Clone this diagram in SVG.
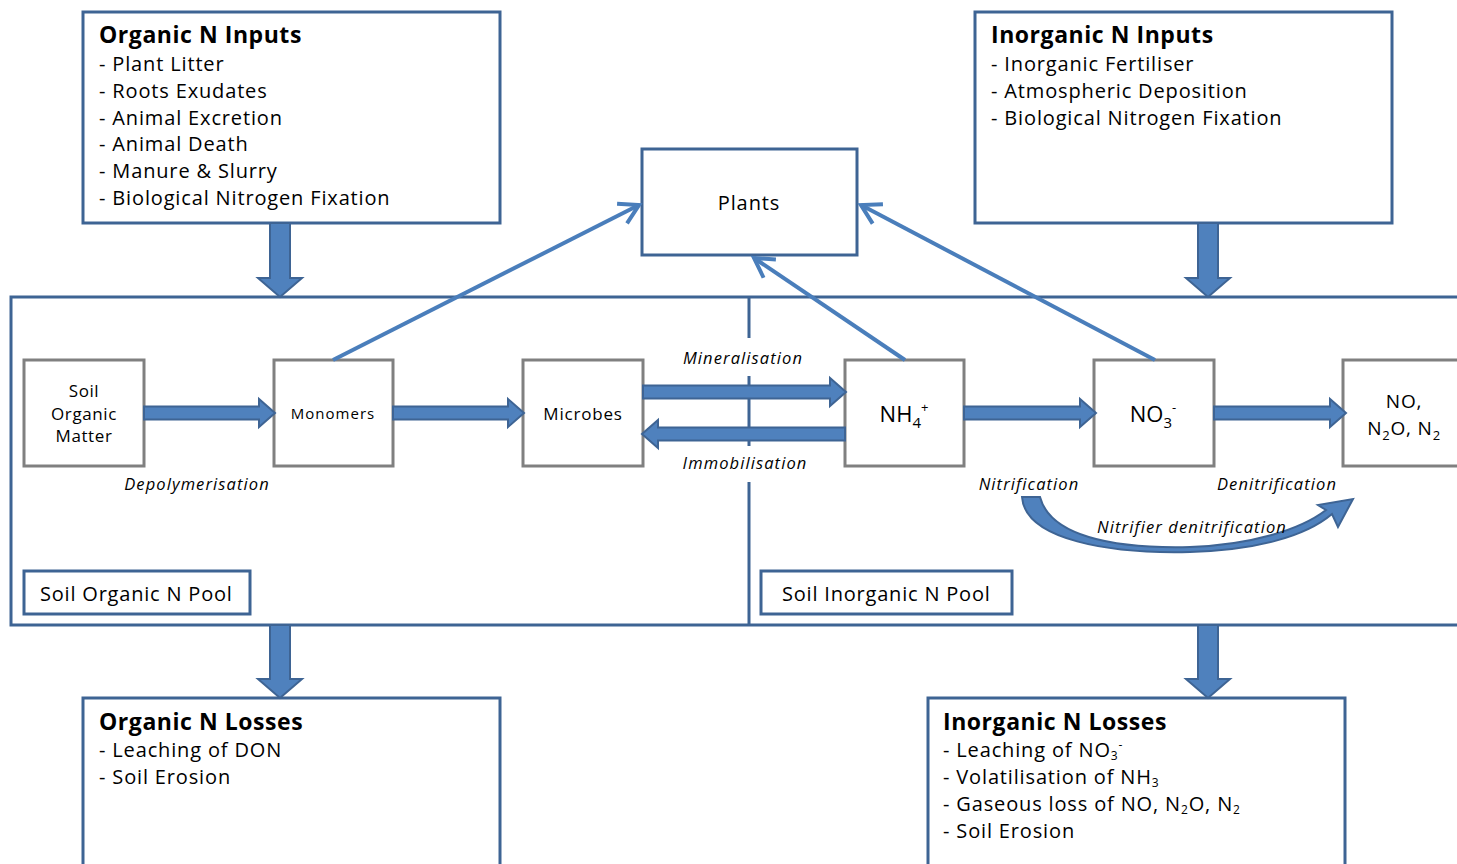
<svg xmlns="http://www.w3.org/2000/svg" width="1457" height="864" viewBox="0 0 1457 864">
<defs>
<style>
text{font-family:"Open Sans","DejaVu Sans",sans-serif;fill:#000}
.box{fill:#fff;stroke:#3E6494;stroke-width:3}
.gbox{fill:#fff;stroke:#808080;stroke-width:3}
.blk{fill:#4F81BD;stroke:#3E6494;stroke-width:2;stroke-linejoin:miter}
.thin{stroke:#4A7EBB;stroke-width:4;fill:none;marker-end:url(#ah)}
.t{font-size:23px;font-weight:bold;letter-spacing:0.55px}
.l{font-size:20px;letter-spacing:0.85px}
.it{font-size:16.5px;font-style:italic;letter-spacing:1.1px}
</style>
<marker id="ah" markerUnits="userSpaceOnUse" markerWidth="26" markerHeight="26" viewBox="0 0 26 26" refX="22" refY="13" orient="auto">
<path d="M3,2 L22,13 L3,24" fill="none" stroke="#4A7EBB" stroke-width="4"/>
</marker>
</defs>

<g id="soil-pool">
<path d="M1460,297 H11 V625 H1460" fill="#fff" stroke="#3E6494" stroke-width="3"/>
<line x1="749" y1="297" x2="749" y2="625" stroke="#3E6494" stroke-width="3"/>
<rect x="665" y="338" width="160" height="38" fill="#fff"/>
<rect x="665" y="446" width="160" height="36" fill="#fff"/>
</g>

<g id="organic-inputs">
<rect class="box" x="83" y="12" width="417" height="211"/>
<text class="t" x="99" y="43">Organic N Inputs</text>
<text class="l" x="99" y="71">- Plant Litter</text>
<text class="l" x="99" y="98">- Roots Exudates</text>
<text class="l" x="99" y="125">- Animal Excretion</text>
<text class="l" x="99" y="151">- Animal Death</text>
<text class="l" x="99" y="178">- Manure &amp; Slurry</text>
<text class="l" x="99" y="205">- Biological Nitrogen Fixation</text>
</g>

<g id="inorganic-inputs">
<rect class="box" x="975" y="12" width="417" height="211"/>
<text class="t" x="991" y="43">Inorganic N Inputs</text>
<text class="l" x="991" y="71">- Inorganic Fertiliser</text>
<text class="l" x="991" y="98">- Atmospheric Deposition</text>
<text class="l" x="991" y="125">- Biological Nitrogen Fixation</text>
</g>

<g id="plants">
<rect class="box" x="642" y="149" width="215" height="106"/>
<text x="749" y="210" font-size="20" letter-spacing="0.9" text-anchor="middle">Plants</text>
</g>

<g id="som">
<rect class="gbox" x="24" y="360" width="120" height="106"/>
<text x="84" y="397" font-size="17" letter-spacing="0.6" text-anchor="middle">Soil</text>
<text x="84" y="420" font-size="17" letter-spacing="0.6" text-anchor="middle">Organic</text>
<text x="84" y="442" font-size="17" letter-spacing="0.6" text-anchor="middle">Matter</text>
</g>

<g id="monomers">
<rect class="gbox" x="274" y="360" width="119" height="106"/>
<text x="333" y="419" font-size="15" letter-spacing="1" text-anchor="middle">Monomers</text>
</g>

<g id="microbes">
<rect class="gbox" x="523" y="360" width="120" height="106"/>
<text x="583" y="420" font-size="17" letter-spacing="0.8" text-anchor="middle">Microbes</text>
</g>

<g id="nh4">
<rect class="gbox" x="845" y="360" width="119" height="106"/>
<text x="904" y="422" font-size="22" text-anchor="middle">NH<tspan font-size="15" dy="6">4</tspan><tspan font-size="13" dy="-16">+</tspan></text>
</g>

<g id="no3">
<rect class="gbox" x="1094" y="360" width="120" height="106"/>
<text x="1153" y="422" font-size="22" text-anchor="middle">NO<tspan font-size="15" dy="6">3</tspan><tspan font-size="13" dy="-16">-</tspan></text>
</g>

<g id="gases">
<rect class="gbox" x="1343" y="360" width="120" height="106"/>
<text x="1404" y="408" font-size="19" letter-spacing="0.8" text-anchor="middle">NO,</text>
<text x="1404" y="435" font-size="19" letter-spacing="0.8" text-anchor="middle">N<tspan font-size="13" dy="5">2</tspan><tspan dy="-5">O, N</tspan><tspan font-size="13" dy="5">2</tspan></text>
</g>

<g id="organic-pool-label">
<rect class="box" x="24" y="571" width="226" height="43"/>
<text x="40" y="601" font-size="20" letter-spacing="0.8">Soil Organic N Pool</text>
</g>

<g id="inorganic-pool-label">
<rect class="box" x="761" y="571" width="251" height="43"/>
<text x="782" y="601" font-size="20" letter-spacing="0.8">Soil Inorganic N Pool</text>
</g>

<g id="organic-losses">
<rect class="box" x="83" y="698" width="417" height="180"/>
<text class="t" x="99" y="730">Organic N Losses</text>
<text class="l" x="99" y="757">- Leaching of DON</text>
<text class="l" x="99" y="784">- Soil Erosion</text>
</g>

<g id="inorganic-losses">
<rect class="box" x="928" y="698" width="417" height="180"/>
<text class="t" x="943" y="730">Inorganic N Losses</text>
<text class="l" x="943" y="757">- Leaching of NO<tspan font-size="12" dy="3">3</tspan><tspan font-size="12" dy="-11">-</tspan></text>
<text class="l" x="943" y="784">- Volatilisation of NH<tspan font-size="12" dy="3">3</tspan></text>
<text class="l" x="943" y="811">- Gaseous loss of NO, N<tspan font-size="12" dy="3">2</tspan><tspan dy="-3">O, N</tspan><tspan font-size="12" dy="3">2</tspan></text>
<text class="l" x="943" y="838">- Soil Erosion</text>
</g>

<g id="connectors">
<path class="blk" d="M270,223 V278 H258 L280,297 L302,278 H290 V223 Z"/>
<path class="blk" d="M1198,223 V278 H1186 L1208,297 L1230,278 H1218 V223 Z"/>
<path class="blk" d="M270,625 V679 H258 L280,698 L302,679 H290 V625 Z"/>
<path class="blk" d="M1198,625 V679 H1186 L1208,698 L1230,679 H1218 V625 Z"/>
<path class="blk" d="M144,406.5 H259 V399 L275,413 L259,427 V419.5 H144 Z"/>
<path class="blk" d="M393,406.5 H508 V399 L524,413 L508,427 V419.5 H393 Z"/>
<path class="blk" d="M643,385.5 H830 V378 L846,392 L830,406 V398.5 H643 Z"/>
<path class="blk" d="M845,427.5 H658 V420 L642,434 L658,448 V440.5 H845 Z"/>
<path class="blk" d="M964,406.5 H1080 V399 L1096,413 L1080,427 V419.5 H964 Z"/>
<path class="blk" d="M1214,406.5 H1330 V399 L1346,413 L1330,427 V419.5 H1214 Z"/>
<line class="thin" x1="333" y1="360" x2="639" y2="205"/>
<line class="thin" x1="905" y1="360" x2="754" y2="258"/>
<line class="thin" x1="1155" y1="360" x2="861" y2="205"/>
<path class="blk" d="M1022,497 C1025,540 1110,554 1190,552 C1255,550 1305,537 1332,514 L1338,527 L1353,499 L1318,505 L1326,510 C1300,530 1250,545 1190,547 C1110,549 1050,535 1040,497 Z"/>
<text class="it" x="197" y="490" text-anchor="middle">Depolymerisation</text>
<text class="it" x="743" y="364" text-anchor="middle">Mineralisation</text>
<text class="it" x="745" y="469" text-anchor="middle">Immobilisation</text>
<text class="it" x="1029" y="490" text-anchor="middle">Nitrification</text>
<text class="it" x="1277" y="490" text-anchor="middle">Denitrification</text>
<text class="it" x="1192" y="533" text-anchor="middle">Nitrifier denitrification</text>
</g>
</svg>
